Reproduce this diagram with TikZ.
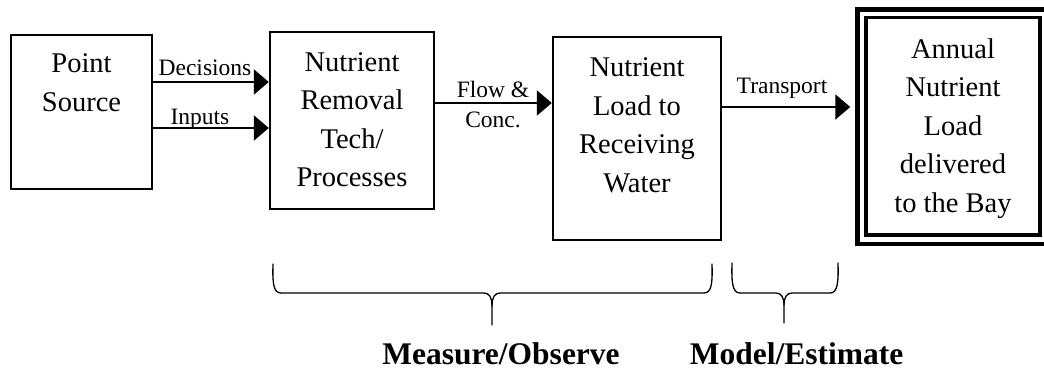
\documentclass[tikz,border=0pt]{standalone}
\usepackage{fontspec}
\setmainfont{Liberation Serif}
\usetikzlibrary{arrows.meta}
\tikzset{
  box/.style={draw, line width=2.4pt, inner sep=0pt, rectangle},
  boxtext/.style={align=center, inner sep=0pt, font=\fontsize{28.5}{38.5}\selectfont},
  lbl/.style={inner sep=0pt, anchor=base, font=\fontsize{23.5}{28}\selectfont},
  big/.style={inner sep=0pt, anchor=base, font=\fontsize{31.5}{36}\selectfont\bfseries},
  flow/.style={line width=2.4pt, -{Triangle[length=15pt,width=25pt]}},
  brace/.style={line width=1.3pt, line join=round, line cap=round}
}
\begin{document}
\begin{tikzpicture}[x=1pt,y=-1pt]
\useasboundingbox (0,0) rectangle (1044,369);
% boxes
\node[box, minimum width=141pt, minimum height=154pt] (ps) at (81.5,112) {};
\node[box, minimum width=164pt, minimum height=177pt] (rem) at (352,120.5) {};
\node[box, minimum width=168pt, minimum height=203pt] (load) at (637,138.5) {};
\node[draw, line width=4.5pt, inner sep=0pt, minimum width=191pt, minimum height=234.5pt] (bayo) at (953,126.75) {};
\node[draw, line width=3.5pt, inner sep=0pt, minimum width=174pt, minimum height=217.5pt] (bay) at (953,126.25) {};
% box texts
\node[boxtext] (pst) at (81.5,84.5) {\strut Point\\\strut Source};
\node[boxtext] (remt) at (352,121.5) {\strut Nutrient\\\strut Removal\\\strut Tech/\\\strut Processes};
\node[boxtext] (loadt) at (637,127) {\strut Nutrient\\\strut Load to\\\strut Receiving\\\strut Water};
\node[boxtext] (bayt) at (953,127.5) {\strut Annual\\\strut Nutrient\\\strut Load\\\strut delivered\\\strut to the Bay};
% connectors
\draw[flow] (ps.east |- 0,82) -- (rem.west |- 0,82);
\draw[flow] (ps.east |- 0,128) -- (rem.west |- 0,128);
\draw[flow] (rem.east |- 0,103) -- (load.west |- 0,103);
\draw[flow, shorten >=5pt] (load.east |- 0,107) -- (bayo.west |- 0,107);
% connector labels
\node[lbl] (ldec) at (205,75) {Decisions};
\node[lbl] (linp) at (200,124) {Inputs};
\node[lbl] (lfl1) at (493,97) {Flow \&};
\node[lbl] (lfl2) at (493,127) {Conc.};
\node[lbl] (ltr) at (782,93) {Transport};
% braces
\draw[brace] (273,264) .. controls (272.5,282) and (273,293) .. (281,293) -- (484,293)
  .. controls (489,293) and (492,297) .. (492,306) -- (492,325);
\draw[brace] (712,264) .. controls (712.5,282) and (712,293) .. (704,293) -- (500,293)
  .. controls (495,293) and (492,297) .. (492,306);
\draw[brace] (732,263) .. controls (731.5,281) and (732,293) .. (740,293) -- (776,293)
  .. controls (781,293) and (784,297) .. (784,305) -- (784,323);
\draw[brace] (838,263) .. controls (838.5,281) and (838,293) .. (830,293) -- (792,293)
  .. controls (787,293) and (784,297) .. (784,305);
% bottom labels
\node[big] (mo) at (501,364) {Measure/Observe};
\node[big] (me) at (796.5,364) {Model/Estimate};
\end{tikzpicture}
\end{document}
